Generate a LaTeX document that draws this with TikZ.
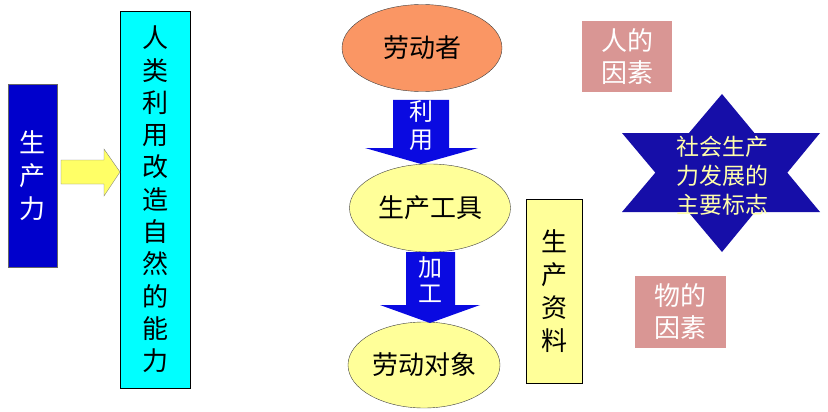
\documentclass[tikz,border=0pt]{standalone}
\usepackage{fontspec}
\setmainfont{Noto Sans CJK SC}
\usetikzlibrary{shapes.geometric}
\definecolor{boxblue}{RGB}{0,0,204}
\definecolor{arrowblue}{RGB}{10,10,225}
\definecolor{starblue}{RGB}{22,14,168}
\definecolor{skyblue}{RGB}{0,255,255}
\definecolor{lightyellow}{RGB}{255,255,153}
\definecolor{arrowyellow}{RGB}{255,255,102}
\definecolor{orangefill}{RGB}{250,150,100}
\definecolor{rosefill}{RGB}{217,150,148}
\definecolor{startext}{RGB}{255,255,170}

\begin{document}
\begin{tikzpicture}[x=1pt,y=-1pt,
		vbox/.style={draw, inner sep=0pt, align=center},
		oval/.style={ellipse, draw=black!75, inner sep=0pt, font=\fontsize{26}{30}\selectfont},
		factor/.style={fill=rosefill, text=white, inner sep=0pt, align=center, font=\fontsize{26}{32}\selectfont},
		blockarrow/.style={fill=arrowblue}]
		\useasboundingbox (0,0) rectangle (828,412);

		% left part
		\draw (32.5,175.5) node [vbox, fill=boxblue, draw=black!60, text=white, minimum width=49pt, minimum height=183pt, font=\fontsize{26}{33}\selectfont] (f) {生\\产\\力};
		\draw (155,199.5) node [vbox, fill=skyblue, minimum width=70pt, minimum height=377pt, font=\fontsize{26}{32.3}\selectfont] (a) {人\\类\\利\\用\\改\\造\\自\\然\\的\\能\\力};
		\draw [fill=arrowyellow, draw=black!50] (61,160) -- (104,160) -- (104,149) -- (120,172) -- (104,196) -- (104,184) -- (61,184) -- cycle;

		% middle part
		\draw (422,48) node [oval, fill=orangefill, minimum width=160pt, minimum height=87pt] (w) {劳动者};
		\draw (430,208) node [oval, fill=lightyellow, minimum width=161pt, minimum height=88pt] (t) {生产工具};
		\draw (424,365) node [oval, fill=lightyellow, minimum width=152pt, minimum height=86pt] (o) {劳动对象};

		\fill [blockarrow] (393,100) -- (449,100) -- (449,148) -- (478,148) -- (421,164) -- (365,148) -- (393,148) -- cycle;
		\draw (421,126) node [text=white, align=center, font=\fontsize{24}{28}\selectfont] (u) {利\\用};
		\fill [blockarrow] (406,252) -- (455,252) -- (455,305) -- (480,305) -- (430,323) -- (380,305) -- (406,305) -- cycle;
		\draw (430,280) node [text=white, align=center, font=\fontsize{24}{26}\selectfont] (p) {加\\工};

		\draw (554,291) node [vbox, fill=lightyellow, minimum width=56pt, minimum height=184pt, font=\fontsize{26}{33}\selectfont] (m) {生\\产\\资\\料};

		% right part
		\draw (627,56.5) node [factor, minimum width=90pt, minimum height=71pt] (h) {人的\\因素};
		\draw (680.5,312) node [factor, minimum width=91pt, minimum height=72pt] (g) {物的\\因素};

		\fill [starblue] (722,94) -- (820,212) -- (622,212) -- cycle;
		\fill [starblue] (722,252) -- (622,133) -- (820,133) -- cycle;
		\draw (722,176) node [text=startext, align=center, font=\fontsize{23}{29}\selectfont] (s) {社会生产\\力发展的\\主要标志};
	\end{tikzpicture}
\end{document}
